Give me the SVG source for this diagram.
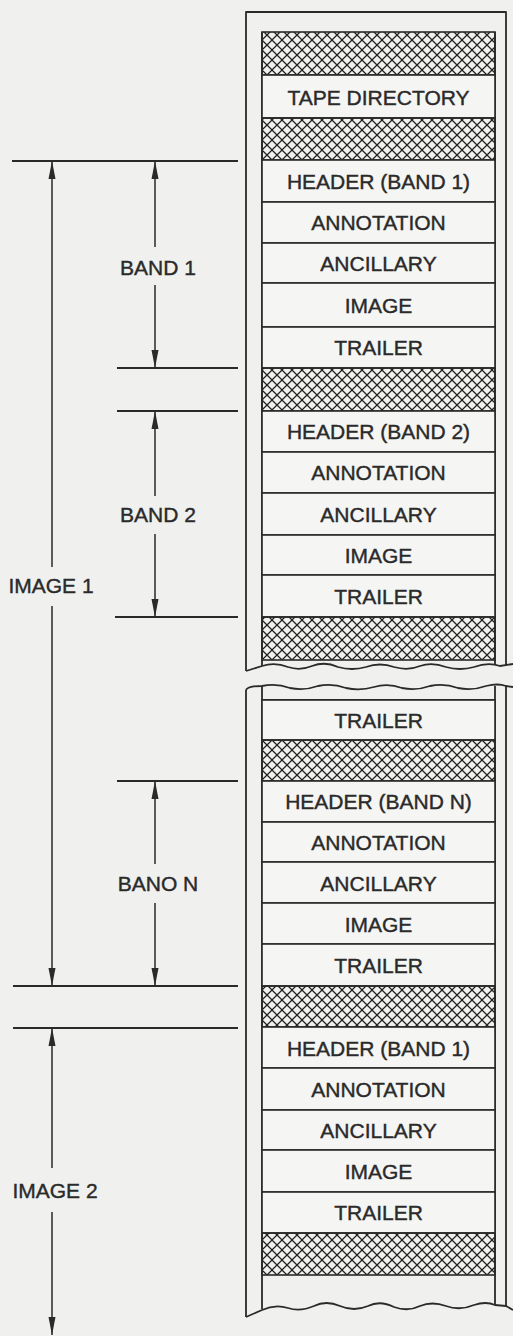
<svg xmlns="http://www.w3.org/2000/svg" width="513" height="1336" viewBox="0 0 513 1336">
<defs>
<pattern id="hatch" patternUnits="userSpaceOnUse" width="10" height="10" x="262" y="0">
<path d="M0,0 L10,10 M10,0 L0,10" stroke="#222" stroke-width="1.25" fill="none"/>
</pattern>
<marker id="ah" viewBox="0 0 18 8" refX="18" refY="4" markerWidth="18" markerHeight="8" markerUnits="userSpaceOnUse" orient="auto-start-reverse">
<path d="M0,0.5 L18,4 L0,7.5 Z" fill="#2a2a2a"/>
</marker>
<style>
.bg{fill:#f0f0ee}
.box{fill:#f5f5f3;stroke:#2a2a2a;stroke-width:1.6}
.hb{fill:url(#hatch);stroke:#2a2a2a;stroke-width:1.6}
.frame{fill:none;stroke:#2a2a2a;stroke-width:1.8;stroke-linejoin:round}
.t{font-family:"Liberation Sans",Arial,sans-serif;font-size:21px;fill:#2a2a2a;stroke:#2a2a2a;stroke-width:0.4;text-anchor:middle}
.dim{stroke:#2a2a2a;stroke-width:2;fill:none}
.arr{stroke:#2a2a2a;stroke-width:1.5;fill:none}
</style>
</defs>
<rect class="bg" x="0" y="0" width="513" height="1336"/>

<g id="frame">
<path class="frame" d="M246,671 L246,12 L506,12 L506,666"/>
<path class="frame" d="M262,666 L262,32 M495,32 L495,665"/>
<path class="frame" d="M246,671 L262,666 Q275,662 288,667 Q300,671 312,666 Q325,661 338,667 Q352,671 366,667 Q380,662 394,667 Q408,671 420,666 Q432,662 446,667 Q460,671 474,667 Q488,662 500,666 L513,664"/>
<path class="frame" d="M246,690 Q248,686 262,686 Q276,683 290,688 Q304,691 318,686 Q332,683 346,688 Q360,691 374,687 Q388,683 402,688 Q416,691 430,686 Q444,683 458,688 Q472,691 486,686 Q498,683 506,686 L513,687"/>
<path class="frame" d="M246,690 L246,1317 M262,687 L262,1309 M495,686 L495,1305 M506,686 L506,1306"/>
<path class="frame" d="M246,1317 L262,1310 Q275,1304 288,1308 Q300,1312 314,1306 Q326,1300 340,1306 Q354,1312 368,1306 Q380,1300 394,1307 Q408,1312 420,1306 Q432,1301 446,1306 Q460,1311 474,1305 Q486,1301 495,1305 L506,1306 L513,1310"/>
<line class="frame" x1="262" y1="700" x2="495" y2="700"/>
</g>

<g id="hatch-1"><rect class="hb" x="262" y="32" width="233" height="43"/></g>
<g id="tape-directory"><rect class="box" x="262" y="75" width="233" height="43"/><text class="t" x="378.5" y="105">TAPE DIRECTORY</text></g>
<g id="hatch-2"><rect class="hb" x="262" y="118" width="233" height="42"/></g>
<g id="header-band1"><rect class="box" x="262" y="160" width="233" height="42"/><text class="t" x="378.5" y="189">HEADER (BAND 1)</text></g>
<g id="annotation-1"><rect class="box" x="262" y="202" width="233" height="41"/><text class="t" x="378.5" y="230">ANNOTATION</text></g>
<g id="ancillary-1"><rect class="box" x="262" y="243" width="233" height="40"/><text class="t" x="378.5" y="271">ANCILLARY</text></g>
<g id="image-1"><rect class="box" x="262" y="283" width="233" height="44"/><text class="t" x="378.5" y="313">IMAGE</text></g>
<g id="trailer-1"><rect class="box" x="262" y="327" width="233" height="41"/><text class="t" x="378.5" y="355">TRAILER</text></g>
<g id="hatch-3"><rect class="hb" x="262" y="368" width="233" height="43"/></g>
<g id="header-band2"><rect class="box" x="262" y="411" width="233" height="41"/><text class="t" x="378.5" y="439">HEADER (BAND 2)</text></g>
<g id="annotation-2"><rect class="box" x="262" y="452" width="233" height="41"/><text class="t" x="378.5" y="480">ANNOTATION</text></g>
<g id="ancillary-2"><rect class="box" x="262" y="493" width="233" height="42"/><text class="t" x="378.5" y="522">ANCILLARY</text></g>
<g id="image-2"><rect class="box" x="262" y="535" width="233" height="40"/><text class="t" x="378.5" y="563">IMAGE</text></g>
<g id="trailer-2"><rect class="box" x="262" y="575" width="233" height="42"/><text class="t" x="378.5" y="604">TRAILER</text></g>
<g id="hatch-4"><rect class="hb" x="262" y="617" width="233" height="43"/></g>

<g id="trailer-3"><rect class="box" x="262" y="700" width="233" height="40"/><text class="t" x="378.5" y="728">TRAILER</text></g>
<g id="hatch-5"><rect class="hb" x="262" y="740" width="233" height="41"/></g>
<g id="header-bandn"><rect class="box" x="262" y="781" width="233" height="41"/><text class="t" x="378.5" y="809">HEADER (BAND N)</text></g>
<g id="annotation-3"><rect class="box" x="262" y="822" width="233" height="40"/><text class="t" x="378.5" y="850">ANNOTATION</text></g>
<g id="ancillary-3"><rect class="box" x="262" y="862" width="233" height="41"/><text class="t" x="378.5" y="891">ANCILLARY</text></g>
<g id="image-3"><rect class="box" x="262" y="903" width="233" height="41"/><text class="t" x="378.5" y="932">IMAGE</text></g>
<g id="trailer-4"><rect class="box" x="262" y="944" width="233" height="42"/><text class="t" x="378.5" y="973">TRAILER</text></g>
<g id="hatch-6"><rect class="hb" x="262" y="986" width="233" height="41"/></g>
<g id="header-band1-img2"><rect class="box" x="262" y="1027" width="233" height="41"/><text class="t" x="378.5" y="1056">HEADER (BAND 1)</text></g>
<g id="annotation-4"><rect class="box" x="262" y="1068" width="233" height="42"/><text class="t" x="378.5" y="1097">ANNOTATION</text></g>
<g id="ancillary-4"><rect class="box" x="262" y="1110" width="233" height="40"/><text class="t" x="378.5" y="1138">ANCILLARY</text></g>
<g id="image-4"><rect class="box" x="262" y="1150" width="233" height="42"/><text class="t" x="378.5" y="1179">IMAGE</text></g>
<g id="trailer-5"><rect class="box" x="262" y="1192" width="233" height="41"/><text class="t" x="378.5" y="1220">TRAILER</text></g>
<g id="hatch-7"><rect class="hb" x="262" y="1233" width="233" height="42"/></g>

<g id="connectors">
<line class="dim" x1="12" y1="161" x2="238" y2="161"/>
<line class="dim" x1="117" y1="368" x2="238" y2="368"/>
<line class="dim" x1="117" y1="411" x2="238" y2="411"/>
<line class="dim" x1="115" y1="617" x2="238" y2="617"/>
<line class="dim" x1="117" y1="781" x2="238" y2="781"/>
<line class="dim" x1="13" y1="986" x2="238" y2="986"/>
<line class="dim" x1="13" y1="1028" x2="238" y2="1028"/>

<line class="arr" x1="155" y1="247" x2="155" y2="161" marker-end="url(#ah)"/>
<line class="arr" x1="155" y1="285" x2="155" y2="368" marker-end="url(#ah)"/>
<line class="arr" x1="155" y1="496" x2="155" y2="411" marker-end="url(#ah)"/>
<line class="arr" x1="155" y1="534" x2="155" y2="617" marker-end="url(#ah)"/>
<line class="arr" x1="155" y1="864" x2="155" y2="781" marker-end="url(#ah)"/>
<line class="arr" x1="155" y1="903" x2="155" y2="986" marker-end="url(#ah)"/>

<line class="arr" x1="52" y1="567" x2="52" y2="161" marker-end="url(#ah)"/>
<line class="arr" x1="52" y1="606" x2="52" y2="986" marker-end="url(#ah)"/>
<line class="arr" x1="52" y1="1168" x2="52" y2="1028" marker-end="url(#ah)"/>
<line class="arr" x1="52" y1="1212" x2="52" y2="1335" marker-end="url(#ah)"/>
</g>

<g id="labels">
<text class="t" x="158" y="275">BAND 1</text>
<text class="t" x="158" y="522">BAND 2</text>
<text class="t" x="158" y="891">BANO N</text>
<text class="t" x="51" y="593">IMAGE 1</text>
<text class="t" x="55" y="1198">IMAGE 2</text>
</g>
</svg>
